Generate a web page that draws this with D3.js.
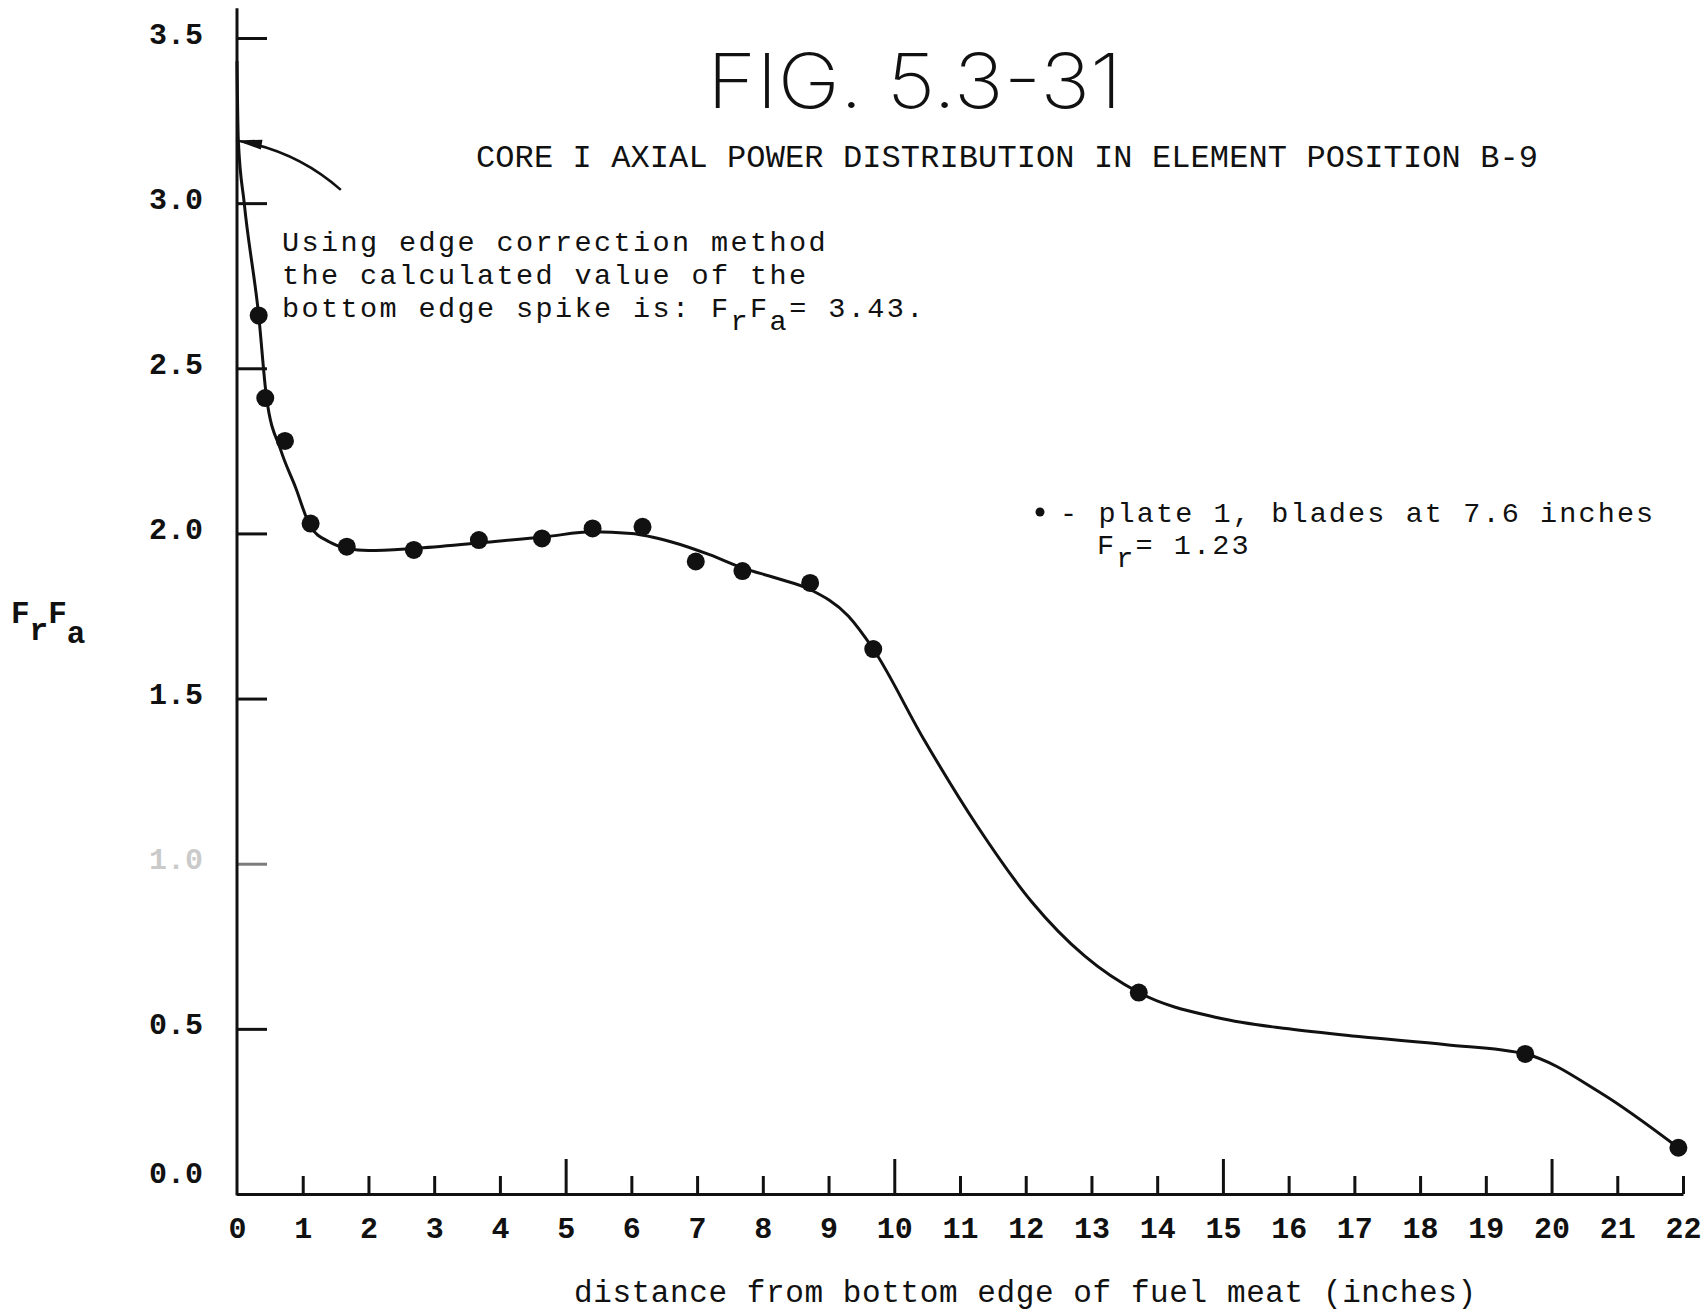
<!DOCTYPE html>
<html>
<head>
<meta charset="utf-8">
<script src="https://cdn.jsdelivr.net/npm/d3@7"></script>
<style>
  html, body { margin: 0; padding: 0; background: #fff; }
  svg { display: block; }
  text { font-family: "Liberation Mono", "Courier New", monospace; fill: #111; }
</style>
</head>
<body>
<svg id="chart" width="1704" height="1312"></svg>
<script>
// Measured Fr·Fa values along plate 1 (blades at 7.6 inches)
const positionIn = [0.33, 0.43, 0.73, 1.12, 1.67, 2.69, 3.68, 4.64, 5.41, 6.17, 6.98, 7.69, 8.72, 9.68, 13.72, 19.6, 21.93];
const frFa       = [2.66, 2.41, 2.28, 2.03, 1.96, 1.95, 1.98, 1.985, 2.015, 2.02, 1.915, 1.886, 1.85, 1.65, 0.61, 0.424, 0.14];

// Faired curve drawn through the measurements, starting at the edge spike
const curveIn   = [0, 0.02, 0.11, 0.33, 0.45, 0.67, 0.89, 1.12, 1.4, 1.67, 2.0, 2.7, 3.7, 4.7, 5.4, 6.0, 6.6, 7.2, 7.7, 8.2, 8.72, 9.3, 9.68, 10.44, 11.26, 12.09, 12.9, 13.72, 14.94, 16.0, 17.1, 18.4, 19.6, 20.75, 21.93];
const curveFrFa = [3.43, 3.19, 3.0, 2.66, 2.41, 2.25, 2.14, 2.02, 1.975, 1.955, 1.948, 1.955, 1.972, 1.99, 2.005, 2.0, 1.975, 1.935, 1.895, 1.865, 1.83, 1.75, 1.65, 1.38, 1.115, 0.885, 0.72, 0.61, 0.533, 0.50, 0.476, 0.452, 0.424, 0.306, 0.14];

// Axis ticks
const xTickValues = [0, 1, 2, 3, 4, 5, 6, 7, 8, 9, 10, 11, 12, 13, 14, 15, 16, 17, 18, 19, 20, 21, 22];
const xTickLabels = ["0", "1", "2", "3", "4", "5", "6", "7", "8", "9", "10", "11", "12", "13", "14", "15", "16", "17", "18", "19", "20", "21", "22"];
const yTickValues = [0, 0.5, 1.0, 1.5, 2.0, 2.5, 3.0, 3.5];
const yTickLabels = ["0.0", "0.5", "1.0", "1.5", "2.0", "2.5", "3.0", "3.5"];

// Edge-spike annotation
const spikeValue = 3.43;
const arrowTipValue = 3.19;

const ink = "#111";
const svg = d3.select("#chart");

const x = d3.scaleLinear().domain([0, 22]).range([237, 1683]);
const y = d3.scaleLinear().domain([0, 3.5]).range([1194, 38]);

// ---- Y axis: ticks point into the plot, labels to the left
const yAxis = d3.axisLeft(y)
  .tickValues(yTickValues)
  .tickFormat((d, i) => yTickLabels[i])
  .tickSize(-30)
  .tickPadding(34)
  .tickSizeOuter(0);
const gy = svg.append("g").attr("transform", `translate(${x(0)},0)`).call(yAxis);
gy.select(".domain").remove();
gy.selectAll(".tick line").attr("stroke", ink).attr("stroke-width", 3);
gy.selectAll(".tick text")
  .attr("font-size", 30)
  .attr("font-weight", "bold")
  .attr("fill", ink)
  .attr("dy", d => d === 0 ? "-0.4em" : "0.17em")
  .attr("opacity", d => d === 1.0 ? 0.22 : 1);
gy.selectAll(".tick").filter(d => d === 1.0).select("line").attr("opacity", 0.55);

svg.append("line")
  .attr("x1", x(0)).attr("x2", x(0))
  .attr("y1", y(3.59)).attr("y2", y(0) + 1.5)
  .attr("stroke", ink).attr("stroke-width", 3);

// ---- X axis: short upward ticks, taller every 5 inches
const xAxis = d3.axisBottom(x)
  .tickValues(xTickValues)
  .tickFormat((d, i) => xTickLabels[i])
  .tickSizeOuter(0);
const gx = svg.append("g").attr("transform", `translate(0,${y(0)})`).call(xAxis);
gx.select(".domain").attr("stroke", ink).attr("stroke-width", 3);
gx.selectAll(".tick line")
  .attr("stroke", ink).attr("stroke-width", 3)
  .attr("y2", d => d === 0 ? 0 : (d % 5 === 0 ? -35 : -18));
gx.selectAll(".tick text")
  .attr("y", 44).attr("dy", 0)
  .attr("font-size", 30)
  .attr("font-weight", "bold")
  .attr("fill", ink);

// ---- Faired curve
const line = d3.line()
  .x((d, i) => x(curveIn[i]))
  .y((d, i) => y(curveFrFa[i]))
  .curve(d3.curveMonotoneX);
svg.append("path")
  .datum(curveIn)
  .attr("d", line)
  .attr("fill", "none")
  .attr("stroke", ink)
  .attr("stroke-width", 3)
  .attr("stroke-linejoin", "round");

// ---- Measured points
svg.append("g").selectAll("circle")
  .data(positionIn)
  .join("circle")
  .attr("cx", d => x(d))
  .attr("cy", (d, i) => y(frFa[i]))
  .attr("r", 9)
  .attr("fill", ink);

// ---- Arrow pointing at the spike on the curve
const tip = [x(0) - 1, y(arrowTipValue)];
const tail = [x(1.58), y(3.04)];
const ctrl = [x(0.9), y(3.16)];
svg.append("path")
  .attr("d", `M${tail[0]},${tail[1]} Q${ctrl[0]},${ctrl[1]} ${tip[0]},${tip[1]}`)
  .attr("fill", "none").attr("stroke", ink).attr("stroke-width", 2.5);
{
  const ang = Math.atan2(tip[1] - ctrl[1], tip[0] - ctrl[0]);
  const L = 26, W = 5;
  const bx = tip[0] - L * Math.cos(ang), by = tip[1] - L * Math.sin(ang);
  const px = -Math.sin(ang) * W, py = Math.cos(ang) * W;
  svg.append("polygon")
    .attr("points", `${tip[0]},${tip[1]} ${bx + px},${by + py} ${bx - px},${by - py}`)
    .attr("fill", ink);
}

// ---- Titles
svg.append("text")
  .attr("x", 707).attr("y", 108)
  .attr("textLength", 415).attr("lengthAdjust", "spacingAndGlyphs")
  .style("font-family", "Inter, 'Noto Sans', 'DejaVu Sans', sans-serif")
  .attr("font-weight", 200)
  .attr("font-size", 76)
  .text("FIG. 5.3-31");

svg.append("text")
  .attr("x", 476).attr("y", 167)
  .attr("font-size", 32)
  .attr("textLength", 1062).attr("lengthAdjust", "spacing")
  .text("CORE I AXIAL POWER DISTRIBUTION IN ELEMENT POSITION B-9");

// ---- Edge-correction note
const note = svg.append("g").attr("font-size", 28.5).attr("letter-spacing", 2.4);
note.append("text").attr("x", 282).attr("y", 251).text("Using edge correction method");
note.append("text").attr("x", 282).attr("y", 284).text("the calculated value of the");
const n3 = note.append("text").attr("x", 282).attr("y", 317);
n3.append("tspan").text("bottom edge spike is: F");
n3.append("tspan").attr("dy", 13).text("r");
n3.append("tspan").attr("dy", -13).text("F");
n3.append("tspan").attr("dy", 13).text("a");
n3.append("tspan").attr("dy", -13).text(`= ${spikeValue.toFixed(2)}.`);

// ---- Legend
svg.append("circle").attr("cx", 1040).attr("cy", 512).attr("r", 4.5).attr("fill", ink);
const legend = svg.append("g").attr("font-size", 28.5).attr("letter-spacing", 2.1);
legend.append("text").attr("x", 1060).attr("y", 522)
  .text("- plate 1, blades at 7.6 inches");
const lg2 = legend.append("text").attr("x", 1097).attr("y", 554);
lg2.append("tspan").text("F");
lg2.append("tspan").attr("dy", 13).text("r");
lg2.append("tspan").attr("dy", -13).text("= 1.23");

// ---- Axis titles
const yl = svg.append("text").attr("x", 11).attr("y", 623).attr("font-size", 31).attr("font-weight", "bold");
yl.append("tspan").text("F");
yl.append("tspan").attr("dy", 17).text("r");
yl.append("tspan").attr("dy", -17).text("F");
yl.append("tspan").attr("dy", 20).text("a");

svg.append("text")
  .attr("x", 574).attr("y", 1302)
  .attr("font-size", 31)
  .attr("textLength", 902).attr("lengthAdjust", "spacing")
  .text("distance from bottom edge of fuel meat (inches)");
</script>
</body>
</html>
